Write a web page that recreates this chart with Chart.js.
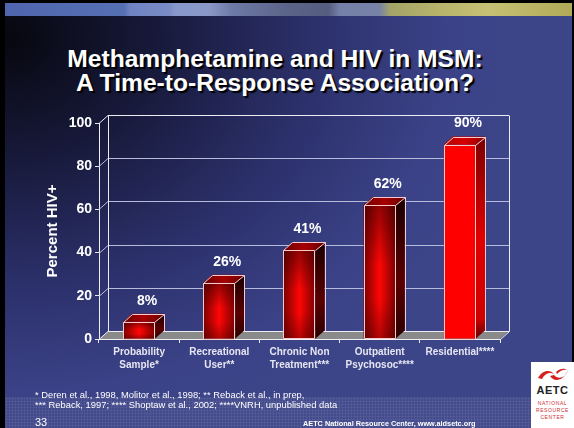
<!DOCTYPE html>
<html>
<head>
<meta charset="utf-8">
<script src="https://cdn.jsdelivr.net/npm/chart.js@4.4.0/dist/chart.umd.min.js"></script>
<style>
  html, body { margin: 0; padding: 0; }
  body { width: 574px; height: 428px; overflow: hidden; position: relative; background: #000;
         font-family: Arial, "Liberation Sans", sans-serif; }
  #slide { position: absolute; left: 5px; top: 3px; width: 567px; height: 425px;
           background: radial-gradient(ellipse 520px 420px at 0% 8%, #07070e 0%, #181a3c 30%, #2c316c 60%, #3b4287 85%, #3d4589 100%); }
  #banner { position: absolute; left: 5px; top: 3px; width: 567px; height: 13px;
            background: linear-gradient(90deg, #4f66ae 0%, #5670b4 21%, #6f82c2 22%, #7a8cc6 29%, #8898cc 30%, #8a98c8 36%,
                        #6e7aa6 40%, #5b6388 50%, #555d80 57%, #7480a8 59%, #7682a6 66%, #a4a468 68%, #b8b46c 77%, #c6c074 85%, #b0aa58 100%); }
  #dots { position: absolute; left: 5px; top: 397px; width: 567px; height: 31px; background-color: rgba(255,255,255,0.04);
          background-image: radial-gradient(rgba(255,255,255,0.10) 0.8px, transparent 1.2px); background-size: 3px 3px; }
  #title { position: absolute; left: 0; top: 47px; width: 550px; text-align: center; color: #fff;
           font-weight: bold; font-size: 24.6px; line-height: 24px; text-shadow: 2px 2px 1px #000; }
  #myChart { position: absolute; left: 0; top: 0; }
  .note { position: absolute; left: 35px; color: #fff; font-size: 9.4px; line-height: 12px; white-space: nowrap; }
  #pageno { position: absolute; left: 35px; top: 416px; color: #fff; font-size: 11px; line-height: 13px; }
  #footer { position: absolute; left: 303px; top: 419px; color: #fff; font-size: 7.3px; font-weight: bold; line-height: 10px; white-space: nowrap; }
  #logo { position: absolute; left: 531px; top: 362px; width: 43px; height: 66px; background: #fff; text-align: center; }
  #logo svg { position: absolute; left: 5px; top: 4px; }
  #logo .aetc { position: absolute; left: 0; top: 22px; width: 43px; font-size: 11px; font-weight: bold; color: #222; letter-spacing: 0.5px; }
  #logo .sub { position: absolute; left: 0; width: 43px; font-size: 5px; line-height: 6px; color: #d03030; letter-spacing: 0.6px; }
</style>
</head>
<body>
<div id="slide"></div>
<div id="banner"></div>
<div id="dots"></div>
<div id="title">Methamphetamine and HIV in MSM:<br>A Time-to-Response Association?</div>
<canvas id="myChart" width="574" height="428"></canvas>
<div class="note" style="top:389px">* Deren et al., 1998, Molitor et al., 1998; ** Reback et al., in prep,</div>
<div class="note" style="top:399px">*** Reback, 1997; **** Shoptaw et al., 2002; ****VNRH, unpublished data</div>
<div id="pageno">33</div>
<div id="footer">AETC National Resource Center, www.aidsetc.org</div>
<div id="logo">
  <svg width="34" height="18" viewBox="0 0 34 18">
    <path d="M2 12 C6 4, 14 3, 18 8 C14 6, 9 7, 6 13 Z" fill="#d42020"/>
    <path d="M14 10 C18 16, 27 16, 32 4 C30 12, 22 14, 18 9 Z" fill="#d42020"/>
    <path d="M20 6 C24 2, 29 2, 31 4 C27 3, 24 5, 21 8 Z" fill="#d42020"/>
  </svg>
  <div class="aetc">AETC</div>
  <div class="sub" style="top:38px">NATIONAL</div>
  <div class="sub" style="top:45px">RESOURCE</div>
  <div class="sub" style="top:52px">CENTER</div>
</div>

<script>
// data
const categories = [
  ['Probability', 'Sample*'],
  ['Recreational', 'User**'],
  ['Chronic Non', 'Treatment***'],
  ['Outpatient', 'Psychosoc****'],
  ['Residential****']
];
const percentHivPositive = [8, 26, 41, 62, 90];
const yTicks = [0, 20, 40, 60, 80, 100];

// 3d depth of the plot box
const DX = 9;
const DY = -8;

function isSolid(i) {
  return i === percentHivPositive.length - 1;
}

// back wall, side wall, floor, then bar sides/tops and value labels
const box3d = {
  id: 'box3d',
  beforeDatasetsDraw(chart) {
    const { ctx, chartArea: a, scales: { y } } = chart;
    ctx.save();
    // floor
    ctx.fillStyle = '#8a8a8a';
    ctx.beginPath();
    ctx.moveTo(a.left, a.bottom);
    ctx.lineTo(a.right, a.bottom);
    ctx.lineTo(a.right + DX, a.bottom + DY);
    ctx.lineTo(a.left + DX, a.bottom + DY);
    ctx.closePath();
    ctx.fill();

    ctx.lineWidth = 1;
    yTicks.forEach(v => {
      const py = Math.round(y.getPixelForValue(v)) + 0.5;
      ctx.strokeStyle = (v === 0 || v === 100) ? '#ececf4' : '#b8bcdc';
      ctx.beginPath();
      ctx.moveTo(a.left, py);
      ctx.lineTo(a.left + DX, py + DY);
      ctx.lineTo(a.right + DX, py + DY);
      ctx.stroke();
    });

    // wall edges
    const top = Math.round(y.getPixelForValue(100)) + 0.5 + DY;
    const bot = Math.round(a.bottom) + 0.5 + DY;
    ctx.strokeStyle = '#ececf4';
    ctx.beginPath();
    ctx.moveTo(Math.round(a.left + DX) + 0.5, top);
    ctx.lineTo(Math.round(a.left + DX) + 0.5, bot);
    ctx.moveTo(Math.round(a.right + DX) + 0.5, top);
    ctx.lineTo(Math.round(a.right + DX) + 0.5, bot);
    ctx.lineTo(Math.round(a.right) + 0.5, bot - DY);
    ctx.stroke();
    ctx.restore();
  },
  afterDatasetsDraw(chart) {
    const { ctx } = chart;
    const meta = chart.getDatasetMeta(0);
    ctx.save();
    meta.data.forEach((el, i) => {
      const l = el.x - el.width / 2;
      const r = el.x + el.width / 2;
      const t = el.y;
      const b = el.base;

      // shading on the front face
      if (!isSolid(i)) {
        const vg = ctx.createLinearGradient(0, t, 0, b);
        vg.addColorStop(0, 'rgba(40,0,0,0.5)');
        vg.addColorStop(0.45, 'rgba(40,0,0,0)');
        vg.addColorStop(0.7, 'rgba(40,0,0,0)');
        vg.addColorStop(1, 'rgba(40,0,0,0.35)');
        ctx.fillStyle = vg;
        ctx.fillRect(l, t, r - l, b - t);
      }

      // side
      const sg = ctx.createLinearGradient(0, t + DY, 0, b);
      if (isSolid(i)) {
        sg.addColorStop(0, '#7a0000');
        sg.addColorStop(0.5, '#e00000');
        sg.addColorStop(0.9, '#d00000');
        sg.addColorStop(1, '#600000');
      } else {
        sg.addColorStop(0, '#1a0000');
        sg.addColorStop(0.6, '#5a0000');
        sg.addColorStop(1, '#2a0000');
      }
      ctx.fillStyle = sg;
      ctx.beginPath();
      ctx.moveTo(r, t);
      ctx.lineTo(r + DX, t + DY);
      ctx.lineTo(r + DX, b + DY);
      ctx.lineTo(r, b);
      ctx.closePath();
      ctx.fill();

      // top
      const tg = ctx.createLinearGradient(l, 0, r + DX, 0);
      if (isSolid(i)) {
        tg.addColorStop(0, '#b00000');
        tg.addColorStop(0.5, '#d80000');
        tg.addColorStop(1, '#900000');
      } else {
        tg.addColorStop(0, '#6a0000');
        tg.addColorStop(0.5, '#a80000');
        tg.addColorStop(1, '#6a0000');
      }
      ctx.fillStyle = tg;
      ctx.beginPath();
      ctx.moveTo(l, t);
      ctx.lineTo(l + DX, t + DY);
      ctx.lineTo(r + DX, t + DY);
      ctx.lineTo(r, t);
      ctx.closePath();
      ctx.fill();

      // edges
      ctx.strokeStyle = '#f6caca';
      ctx.lineWidth = 1;
      ctx.beginPath();
      ctx.rect(Math.round(l) + 0.5, Math.round(t) + 0.5, Math.round(r - l) - 1, Math.round(b - t));
      ctx.moveTo(Math.round(l) + 0.5, Math.round(t) + 0.5);
      ctx.lineTo(Math.round(l + DX) + 0.5, Math.round(t + DY) + 0.5);
      ctx.lineTo(Math.round(r + DX) + 0.5, Math.round(t + DY) + 0.5);
      ctx.lineTo(Math.round(r) - 0.5, Math.round(t) + 0.5);
      ctx.moveTo(Math.round(r + DX) + 0.5, Math.round(t + DY) + 0.5);
      ctx.lineTo(Math.round(r + DX) + 0.5, Math.round(b + DY));
      ctx.stroke();

      // value label
      ctx.fillStyle = '#ffffff';
      ctx.font = 'bold 14px Arial, "Liberation Sans", sans-serif';
      ctx.textAlign = 'center';
      ctx.textBaseline = 'middle';
      ctx.fillText(percentHivPositive[i] + '%', el.x + 8, t - 21);
    });
    ctx.restore();
  }
};

const ctx = document.getElementById('myChart').getContext('2d');

new Chart(ctx, {
  type: 'bar',
  data: {
    labels: categories,
    datasets: [{
      data: percentHivPositive,
      backgroundColor: c => {
        const chart = c.chart;
        if (!chart.chartArea || c.dataIndex === undefined) return '#d00000';
        if (isSolid(c.dataIndex)) return '#ff0000';
        const x = chart.scales.x.getPixelForValue(c.dataIndex);
        const g = chart.ctx.createLinearGradient(x - 16, 0, x + 16, 0);
        g.addColorStop(0, '#7a0000');
        g.addColorStop(0.5, '#ff0606');
        g.addColorStop(1, '#7a0000');
        return g;
      },
      borderWidth: 0,
      barPercentage: 0.4,
      categoryPercentage: 1
    }]
  },
  options: {
    responsive: false,
    devicePixelRatio: 1,
    animation: false,
    layout: {
      padding: { top: 123, right: 74, bottom: 49, left: 0 }
    },
    plugins: {
      legend: { display: false },
      tooltip: { enabled: false },
      title: { display: false }
    },
    scales: {
      y: {
        min: 0,
        max: 100,
        afterFit: s => { s.width = 99; },
        afterBuildTicks: s => { s.ticks = yTicks.map(v => ({ value: v })); },
        ticks: {
          color: '#ffffff',
          padding: 3,
          font: { size: 14, weight: 'bold', family: 'Arial, "Liberation Sans", sans-serif' }
        },
        grid: { drawOnChartArea: false, drawTicks: true, tickLength: 4, color: '#e6e6ee' },
        border: { display: true, color: '#f0f0f4', width: 1 },
        title: {
          display: true,
          text: 'Percent HIV+',
          color: '#ffffff',
          padding: { top: 44, bottom: 0 },
          font: { size: 15, weight: 'bold', family: 'Arial, "Liberation Sans", sans-serif' }
        }
      },
      x: {
        afterFit: s => { s.height = 40; },
        ticks: {
          color: '#e6e6f2',
          padding: 3,
          maxRotation: 0,
          autoSkip: false,
          font: { size: 10, weight: 'bold', lineHeight: 1.3, family: 'Arial, "Liberation Sans", sans-serif' }
        },
        grid: { offset: true, drawOnChartArea: false, drawTicks: true, tickLength: 4, color: '#e6e6ee' },
        border: { display: true, color: '#f0f0f4', width: 1 }
      }
    }
  },
  plugins: [box3d]
});
</script>
</body>
</html>
